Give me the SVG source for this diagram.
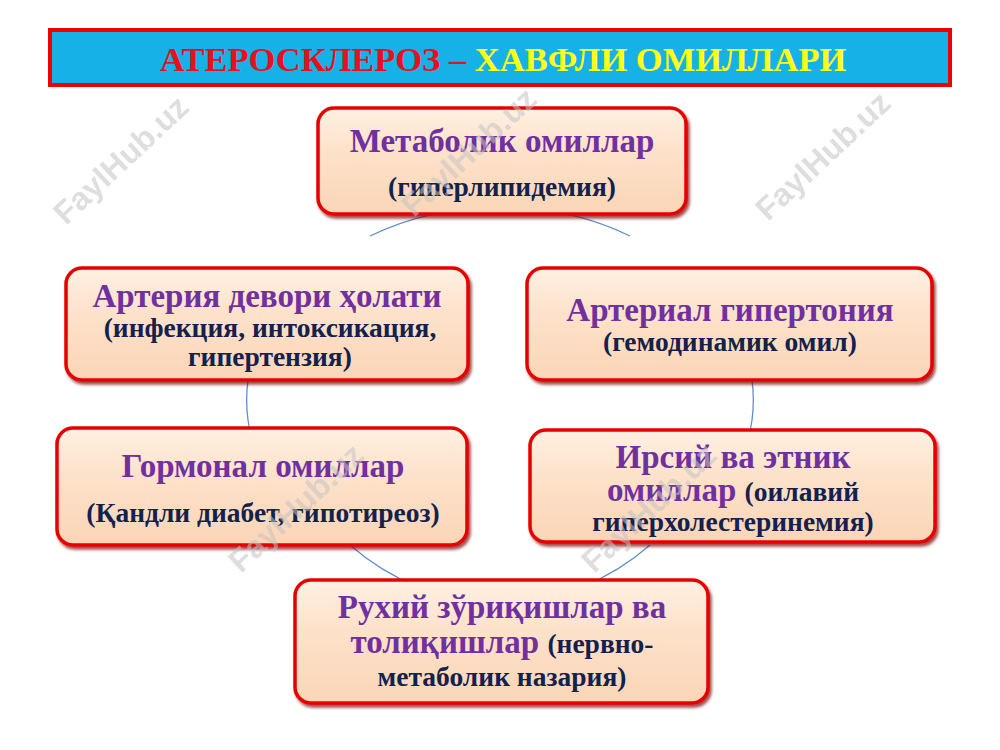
<svg xmlns="http://www.w3.org/2000/svg" width="1000" height="750" viewBox="0 0 1000 750">
<style>
.box{fill:url(#peach);stroke:#e60000;stroke-width:3.5;filter:url(#sh)}
.h{font-family:"Liberation Serif","Times New Roman",serif;font-weight:bold;font-size:33px;fill:#7030a0;text-anchor:middle}
.s{font-family:"Liberation Serif","Times New Roman",serif;font-weight:bold;font-size:27.5px;fill:#14214d;text-anchor:middle}
.conn{fill:none;stroke:#5b8fd0;stroke-width:1.3}
.wm{font-family:"Liberation Sans",Arial,sans-serif;font-weight:bold;font-size:32px;fill:#c4c4c4;opacity:0.55}
</style>
<defs>
<linearGradient id="peach" x1="0" y1="0" x2="0" y2="1">
<stop offset="0" stop-color="#fff0e2"/>
<stop offset="0.4" stop-color="#fde2cb"/>
<stop offset="1" stop-color="#fbd5b6"/>
</linearGradient>
<filter id="sh" x="-5%" y="-10%" width="112%" height="125%">
<feDropShadow dx="2" dy="3" stdDeviation="1.5" flood-color="#7a0000" flood-opacity="0.7"/>
</filter>
</defs>
<rect width="1000" height="750" fill="#ffffff"/>
<g id="connectors">
<path class="conn" d="M 370 236 A 248 195 0 0 1 630 236"/>
<path class="conn" d="M 252 360 A 248 195 0 0 0 252 440"/>
<path class="conn" d="M 748 360 A 248 195 0 0 1 748 440"/>
<path class="conn" d="M 350 545 A 248 195 0 0 0 420 588"/>
<path class="conn" d="M 650 545 A 248 195 0 0 1 580 588"/>
</g>
<g id="title">
<rect x="50" y="30" width="900" height="55" fill="#16b1e6" stroke="#f00000" stroke-width="4"/>
<text x="503" y="71" text-anchor="middle" font-family="'Liberation Serif','Times New Roman',serif" font-weight="bold" font-size="34.5"><tspan fill="#e8101e">АТЕРОСКЛЕРОЗ – </tspan><tspan fill="#ffff1a">ХАВФЛИ ОМИЛЛАРИ</tspan></text>
</g>
<g id="n1">
<rect class="box" x="318" y="108" width="368" height="106" rx="16"/>
<text class="h" x="502" y="152">Метаболик омиллар</text>
<text class="s" x="502" y="196">(гиперлипидемия)</text>
</g>
<g id="n2">
<rect class="box" x="66" y="268" width="402" height="112" rx="16"/>
<text class="h" x="267" y="307">Артерия девори ҳолати</text>
<text class="s" x="270" y="337">(инфекция, интоксикация,</text>
<text class="s" x="270" y="366">гипертензия)</text>
</g>
<g id="n3">
<rect class="box" x="527" y="268" width="405" height="112" rx="16"/>
<text class="h" x="730" y="321">Артериал гипертония</text>
<text class="s" x="730" y="351">(гемодинамик омил)</text>
</g>
<g id="n4">
<rect class="box" x="57" y="428" width="410" height="117" rx="16"/>
<text class="h" x="263" y="477">Гормонал омиллар</text>
<text class="s" x="263" y="522">(Қандли диабет, гипотиреоз)</text>
</g>
<g id="n5">
<rect class="box" x="530" y="430" width="405" height="112" rx="16"/>
<text class="h" x="733" y="468">Ирсий ва этник</text>
<text x="733" y="501" text-anchor="middle" font-family="'Liberation Serif','Times New Roman',serif" font-weight="bold"><tspan font-size="33" fill="#7030a0">омиллар </tspan><tspan font-size="27.5" fill="#14214d">(оилавий</tspan></text>
<text class="s" x="733" y="531">гиперхолестеринемия)</text>
</g>
<g id="n6">
<rect class="box" x="295" y="580" width="413" height="123" rx="16"/>
<text class="h" x="502" y="618">Рухий зўриқишлар ва</text>
<text x="502" y="653" text-anchor="middle" font-family="'Liberation Serif','Times New Roman',serif" font-weight="bold"><tspan font-size="33" fill="#7030a0">толиқишлар </tspan><tspan font-size="27.5" fill="#14214d">(нервно-</tspan></text>
<text class="s" x="502" y="686">метаболик назария)</text>
</g>
<g id="watermarks">
<text class="wm" transform="translate(66,226) rotate(-43)">FaylHub.uz</text>
<text class="wm" transform="translate(414,218) rotate(-43)">FaylHub.uz</text>
<text class="wm" transform="translate(768,222) rotate(-43)">FaylHub.uz</text>
<text class="wm" transform="translate(-134,572) rotate(-43)">FaylHub.uz</text>
<text class="wm" transform="translate(241,574) rotate(-43)">FaylHub.uz</text>
<text class="wm" transform="translate(594,574) rotate(-43)">FaylHub.uz</text>
</g>
</svg>
